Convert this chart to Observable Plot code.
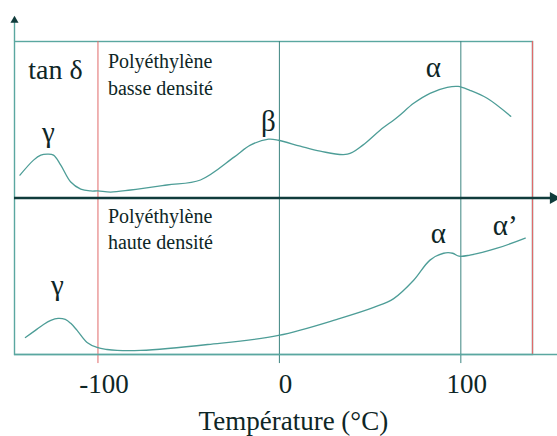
<!DOCTYPE html>
<html><head><meta charset="utf-8">
<script src="https://cdn.jsdelivr.net/npm/d3@7"></script>
<script src="https://cdn.jsdelivr.net/npm/@observablehq/plot@0.6"></script>
<style>body{margin:0;background:#fff}</style>
</head><body><div id="chart"></div>
<script>
// Panels: upper = basse densité (offset 0), lower = haute densité (offset -1)
const panels = ["basse", "haute"];
const panelBase = {basse: 0, haute: -1};

// Low-density polyethylene (upper panel): temperature (°C), tan δ (arb. units)
const ldpeT = [-143, -135.5, -131.5, -128, -124.5, -120.5, -115, -109.5, -104, -100, -93, -82, -62, -43.5, -25, -16, -6, -0.5, 11.5, 22.5, 37.5, 46, 55.5, 65, 74, 83, 92.5, 98.5, 105, 114.5, 127.5];
const ldpeV = [0.146, 0.242, 0.274, 0.280, 0.274, 0.210, 0.102, 0.057, 0.045, 0.045, 0.038, 0.051, 0.083, 0.115, 0.261, 0.338, 0.376, 0.369, 0.331, 0.299, 0.280, 0.338, 0.433, 0.516, 0.605, 0.669, 0.707, 0.713, 0.688, 0.637, 0.522];

// High-density polyethylene (lower panel)
const hdpeT = [-140, -134.5, -130, -126, -122, -118, -115, -111.5, -106, -100.5, -95, -89.5, -76.5, -39.5, -0.5, 33.5, 52, 63, 74, 83, 90.5, 95.5, 99, 105, 120, 135.5];
const hdpeV = [0.109, 0.154, 0.192, 0.218, 0.231, 0.224, 0.199, 0.154, 0.077, 0.045, 0.032, 0.026, 0.026, 0.064, 0.122, 0.231, 0.301, 0.357, 0.474, 0.603, 0.647, 0.647, 0.628, 0.635, 0.679, 0.744];

// Axis
const xMin = -146, xMax = 139.5;
const tickValues = [-100, 0, 100];
const tickLabels = ["-100", "0", "100"];
const xTitle = "Température (°C)";

// Panel titles
const titleLines = ["Polyéthylène", "basse densité", "Polyéthylène", "haute densité"];
const titlePanel = ["basse", "basse", "haute", "haute"];
const titleT = [-94.5, -94.5, -94.5, -94.5];
const titleV = [0.873, 0.701, 0.878, 0.712];

// Peak labels
const peakText = ["γ", "β", "α", "γ", "α", "α’"];
const peakPanel = ["basse", "basse", "basse", "haute", "haute", "haute"];
const peakT = [-127.3, -6.1, 84.8, -122.3, 87.6, 124.5];
const peakV = [0.42, 0.487, 0.831, 0.439, 0.772, 0.824];

const TEAL = "#5aa7a0", TEAL_D = "#3d8580", RED = "#e06a6a", DARK = "#103c3c", CURVE = "#4d9d97", INK = "#0e2626";
const FONT = "Liberation Serif";

const curveData = [
  ...ldpeT.map((t, i) => ({panel: "basse", t, v: ldpeV[i]})),
  ...hdpeT.map((t, i) => ({panel: "haute", t, v: hdpeV[i]}))
];
const titles = titleLines.map((s, i) => ({s, panel: titlePanel[i], t: titleT[i], v: titleV[i]}));
const peaks = peakText.map((s, i) => ({s, panel: peakPanel[i], t: peakT[i], v: peakV[i]}));
const ticks = tickValues.map((x, i) => ({x, s: tickLabels[i]}));
const Y = d => d.v + panelBase[d.panel];

const chart = Plot.plot({
  width: 557, height: 436,
  marginTop: 41, marginBottom: 82, marginLeft: 14, marginRight: 25,
  x: {domain: [xMin, xMax], axis: null},
  y: {domain: [-1, 1], axis: null},
  marks: [
    Plot.frame({stroke: TEAL, strokeWidth: 1.4}),
    Plot.ruleX(tickValues.filter(x => x === -100), {x: d => d, y1: -1.058, y2: 1, stroke: RED, strokeWidth: 1}),
    Plot.ruleX(tickValues.filter(x => x !== -100), {x: d => d, y1: -1.058, y2: 1, stroke: TEAL_D, strokeWidth: 1}),
    Plot.ruleX([xMax], {stroke: RED, strokeWidth: 1.2}),
    Plot.ruleY([-1], {x1: xMin, x2: 153.5, stroke: TEAL, strokeWidth: 1.4}),
    // horizontal axis arrow
    Plot.ruleY([0], {x1: xMin, x2: 150, stroke: DARK, strokeWidth: 2.4}),
    Plot.dot([0], {x: 151, y: 0, symbol: "triangle", rotate: 90, r: 4.5, fill: DARK, stroke: "none"}),
    // vertical axis arrow
    Plot.ruleX([xMin], {y1: 1, y2: 1.13, stroke: TEAL, strokeWidth: 1.4}),
    Plot.dot([0], {x: xMin, y: 1.135, symbol: "triangle", r: 3, fill: DARK, stroke: "none"}),
    // curves
    Plot.line(curveData, {x: "t", y: Y, z: "panel", curve: "catmull-rom", stroke: CURVE, strokeWidth: 1.3}),
    // texts
    Plot.text(["tan δ"], {x: -123.4, y: 0.815, text: d => d, fontSize: 28, fontFamily: FONT, fill: INK}),
    Plot.text(titles, {x: "t", y: Y, text: "s", textAnchor: "start", fontSize: 20, fontFamily: FONT, fill: INK}),
    Plot.text(peaks, {x: "t", y: Y, text: "s", fontSize: 29, fontFamily: FONT, fill: INK}),
    Plot.text(ticks, {x: "x", y: -1.188, text: "s", dx: 6, fontSize: 27, fontFamily: FONT, fill: INK}),
    Plot.text([xTitle], {x: 7.7, y: -1.43, text: d => d, fontSize: 27, fontFamily: FONT, fill: INK})
  ]
});
chart.setAttribute("font-family", FONT);
chart.querySelectorAll("text").forEach(t => {
  t.setAttribute("font-family", FONT);
  t.style.setProperty("font-family", FONT, "important");
});
document.getElementById("chart").appendChild(chart);
</script>
</body></html>
